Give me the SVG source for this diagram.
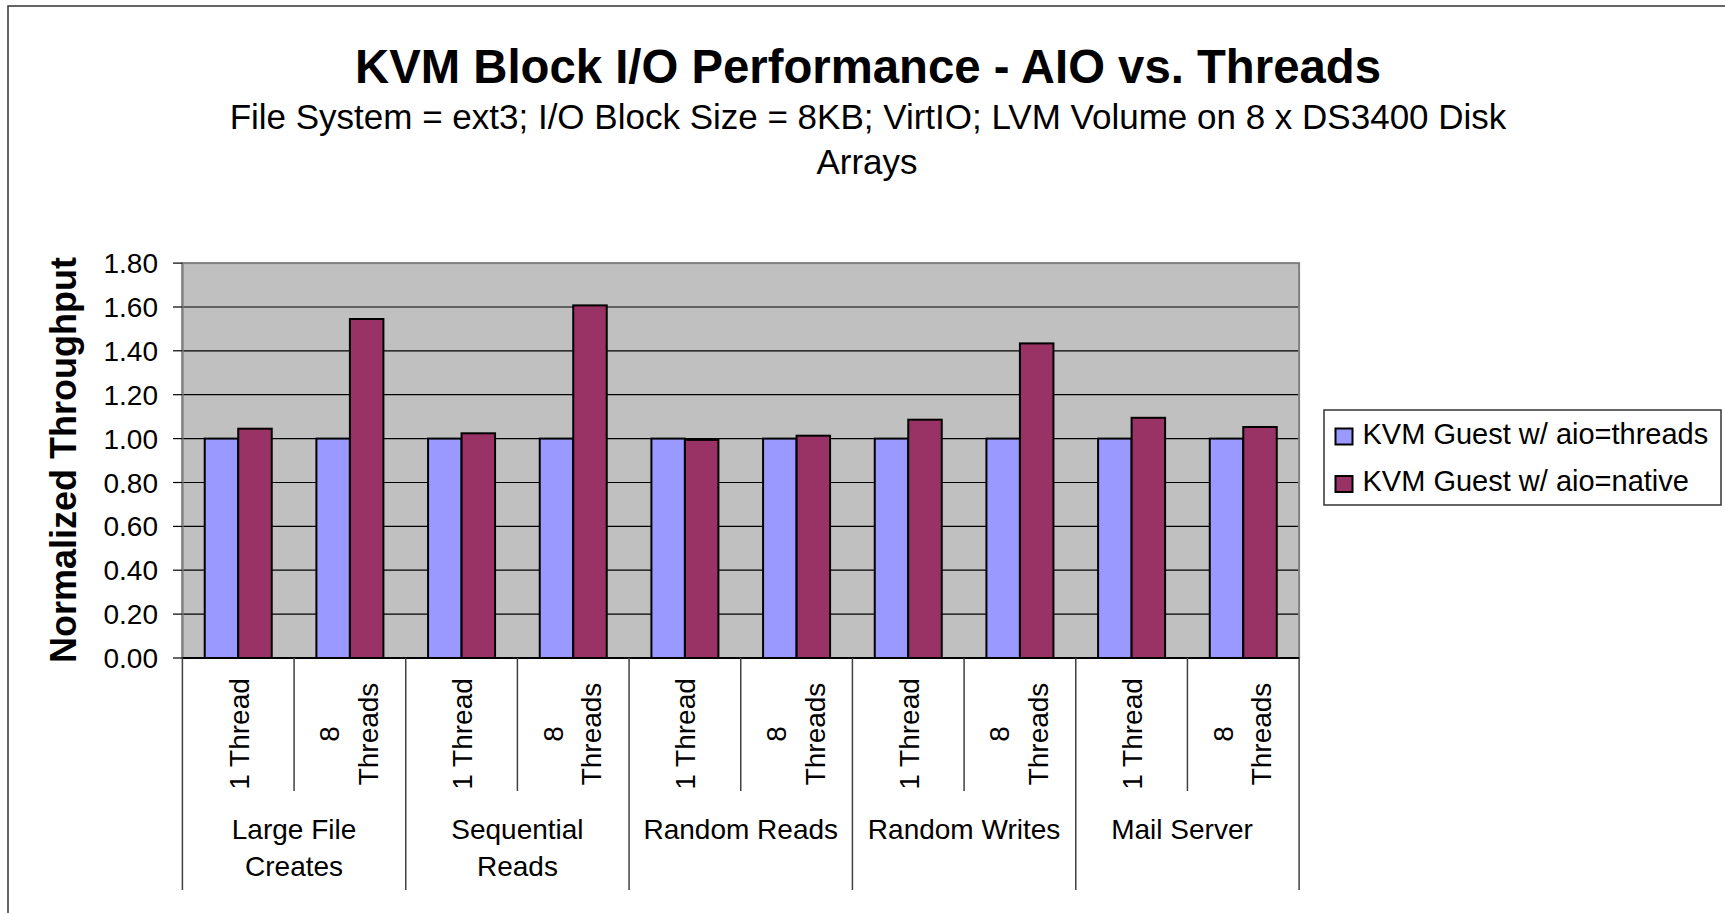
<svg xmlns="http://www.w3.org/2000/svg" width="1725" height="913" viewBox="0 0 1725 913">
<style>
text{font-family:"Liberation Sans",Arial,sans-serif;fill:#000}
.title{font-size:47.3px;font-weight:bold;text-anchor:middle}
.sub{font-size:35px;text-anchor:middle}
.tick{font-size:28px;text-anchor:end}
.cat{font-size:28px;text-anchor:middle}
.leg{font-size:29px}
.ytitle{font-size:36px;font-weight:bold;text-anchor:middle}
.grid{stroke:#000;stroke-width:1.2}
.bl{fill:#9999FF;stroke:#000;stroke-width:2}
.rd{fill:#993366;stroke:#000;stroke-width:2}
.sep{stroke:#404040;stroke-width:1.5}
</style>
<rect x="0" y="0" width="1725" height="913" fill="#fff"/>
<g id="frame"><polyline points="8,913 8,6 1725,6" fill="none" stroke="#333" stroke-width="1.5"/></g>
<g id="titles">
<text class="title" x="868" y="83">KVM Block I/O Performance - AIO vs. Threads</text>
<text class="sub" x="868" y="129">File System = ext3; I/O Block Size = 8KB; VirtIO; LVM Volume on 8 x DS3400 Disk</text>
<text class="sub" x="867" y="174">Arrays</text>
</g>
<g id="plot">
<rect x="182.4" y="263.1" width="1116.7" height="394.9" fill="#C0C0C0"/>
<g id="gridlines">
<line class="grid" x1="182.4" x2="1299.1" y1="614.1" y2="614.1"/>
<line class="grid" x1="182.4" x2="1299.1" y1="570.2" y2="570.2"/>
<line class="grid" x1="182.4" x2="1299.1" y1="526.4" y2="526.4"/>
<line class="grid" x1="182.4" x2="1299.1" y1="482.5" y2="482.5"/>
<line class="grid" x1="182.4" x2="1299.1" y1="438.6" y2="438.6"/>
<line class="grid" x1="182.4" x2="1299.1" y1="394.7" y2="394.7"/>
<line class="grid" x1="182.4" x2="1299.1" y1="350.8" y2="350.8"/>
<line class="grid" x1="182.4" x2="1299.1" y1="307.0" y2="307.0"/>
</g>
<rect x="182.4" y="263.1" width="1116.7" height="394.9" fill="none" stroke="#808080" stroke-width="2"/>
</g>
<g id="bars">
<rect class="bl" x="204.73" y="438.6" width="33.5" height="219.4"/>
<rect class="rd" x="238.23" y="428.7" width="33.5" height="229.3"/>
<rect class="bl" x="316.40" y="438.6" width="33.5" height="219.4"/>
<rect class="rd" x="349.90" y="319.0" width="33.5" height="339.0"/>
<rect class="bl" x="428.07" y="438.6" width="33.5" height="219.4"/>
<rect class="rd" x="461.57" y="433.3" width="33.5" height="224.7"/>
<rect class="bl" x="539.74" y="438.6" width="33.5" height="219.4"/>
<rect class="rd" x="573.24" y="305.4" width="33.5" height="352.6"/>
<rect class="bl" x="651.41" y="438.6" width="33.5" height="219.4"/>
<rect class="rd" x="684.91" y="439.9" width="33.5" height="218.1"/>
<rect class="bl" x="763.08" y="438.6" width="33.5" height="219.4"/>
<rect class="rd" x="796.58" y="435.7" width="33.5" height="222.3"/>
<rect class="bl" x="874.75" y="438.6" width="33.5" height="219.4"/>
<rect class="rd" x="908.25" y="419.7" width="33.5" height="238.3"/>
<rect class="bl" x="986.42" y="438.6" width="33.5" height="219.4"/>
<rect class="rd" x="1019.92" y="343.4" width="33.5" height="314.6"/>
<rect class="bl" x="1098.09" y="438.6" width="33.5" height="219.4"/>
<rect class="rd" x="1131.59" y="417.8" width="33.5" height="240.2"/>
<rect class="bl" x="1209.76" y="438.6" width="33.5" height="219.4"/>
<rect class="rd" x="1243.26" y="427.0" width="33.5" height="231.0"/>
</g>
<g id="y-axis">
<line x1="182.4" y1="263.1" x2="182.4" y2="658" stroke="#808080" stroke-width="2"/>
<g stroke="#000" stroke-width="1.2">
<line x1="173" x2="182.4" y1="658" y2="658"/>
<line x1="173" x2="182.4" y1="614.1" y2="614.1"/>
<line x1="173" x2="182.4" y1="570.2" y2="570.2"/>
<line x1="173" x2="182.4" y1="526.4" y2="526.4"/>
<line x1="173" x2="182.4" y1="482.5" y2="482.5"/>
<line x1="173" x2="182.4" y1="438.6" y2="438.6"/>
<line x1="173" x2="182.4" y1="394.7" y2="394.7"/>
<line x1="173" x2="182.4" y1="350.8" y2="350.8"/>
<line x1="173" x2="182.4" y1="307.0" y2="307.0"/>
<line x1="173" x2="182.4" y1="263.1" y2="263.1"/>
</g>
<text class="tick" x="158" y="668">0.00</text>
<text class="tick" x="158" y="624.1">0.20</text>
<text class="tick" x="158" y="580.2">0.40</text>
<text class="tick" x="158" y="536.4">0.60</text>
<text class="tick" x="158" y="492.5">0.80</text>
<text class="tick" x="158" y="448.6">1.00</text>
<text class="tick" x="158" y="404.7">1.20</text>
<text class="tick" x="158" y="360.8">1.40</text>
<text class="tick" x="158" y="317.0">1.60</text>
<text class="tick" x="158" y="273.1">1.80</text>
<text class="ytitle" transform="translate(76,460) rotate(-90)">Normalized Throughput</text>
</g>
<g id="x-axis">
<line x1="182.4" y1="658" x2="1299.1" y2="658" stroke="#000" stroke-width="2"/>
<g class="sep">
<line class="sep" x1="182.4" x2="182.4" y1="658" y2="890"/>
<line class="sep" x1="405.74" x2="405.74" y1="658" y2="890"/>
<line class="sep" x1="629.08" x2="629.08" y1="658" y2="890"/>
<line class="sep" x1="852.42" x2="852.42" y1="658" y2="890"/>
<line class="sep" x1="1075.76" x2="1075.76" y1="658" y2="890"/>
<line class="sep" x1="1299.1" x2="1299.1" y1="658" y2="890"/>
<line class="sep" x1="294.07" x2="294.07" y1="658" y2="791"/>
<line class="sep" x1="517.41" x2="517.41" y1="658" y2="791"/>
<line class="sep" x1="740.75" x2="740.75" y1="658" y2="791"/>
<line class="sep" x1="964.09" x2="964.09" y1="658" y2="791"/>
<line class="sep" x1="1187.43" x2="1187.43" y1="658" y2="791"/>
</g>
<text class="cat" transform="translate(248.7,734) rotate(-90)">1 Thread</text>
<text class="cat" transform="translate(339.4,734) rotate(-90)">8</text>
<text class="cat" transform="translate(377.9,734) rotate(-90)">Threads</text>
<text class="cat" transform="translate(472.1,734) rotate(-90)">1 Thread</text>
<text class="cat" transform="translate(562.7,734) rotate(-90)">8</text>
<text class="cat" transform="translate(601.2,734) rotate(-90)">Threads</text>
<text class="cat" transform="translate(695.4,734) rotate(-90)">1 Thread</text>
<text class="cat" transform="translate(786.1,734) rotate(-90)">8</text>
<text class="cat" transform="translate(824.6,734) rotate(-90)">Threads</text>
<text class="cat" transform="translate(918.8,734) rotate(-90)">1 Thread</text>
<text class="cat" transform="translate(1009.4,734) rotate(-90)">8</text>
<text class="cat" transform="translate(1047.9,734) rotate(-90)">Threads</text>
<text class="cat" transform="translate(1142.1,734) rotate(-90)">1 Thread</text>
<text class="cat" transform="translate(1232.8,734) rotate(-90)">8</text>
<text class="cat" transform="translate(1271.3,734) rotate(-90)">Threads</text>
<text class="cat" x="294.07" y="839">Large File</text>
<text class="cat" x="294.07" y="876">Creates</text>
<text class="cat" x="517.41" y="839">Sequential</text>
<text class="cat" x="517.41" y="876">Reads</text>
<text class="cat" x="740.75" y="839">Random Reads</text>
<text class="cat" x="964.09" y="839">Random Writes</text>
<text class="cat" x="1182" y="839">Mail Server</text>
</g>
<g id="legend">
<rect x="1324" y="410" width="397" height="95" fill="#fff" stroke="#333" stroke-width="1.5"/>
<rect class="bl" x="1335.5" y="428.5" width="17" height="16"/>
<text class="leg" x="1362.5" y="444">KVM Guest w/ aio=threads</text>
<rect class="rd" x="1335.5" y="476" width="17" height="16"/>
<text class="leg" x="1362.5" y="491">KVM Guest w/ aio=native</text>
</g>
</svg>
